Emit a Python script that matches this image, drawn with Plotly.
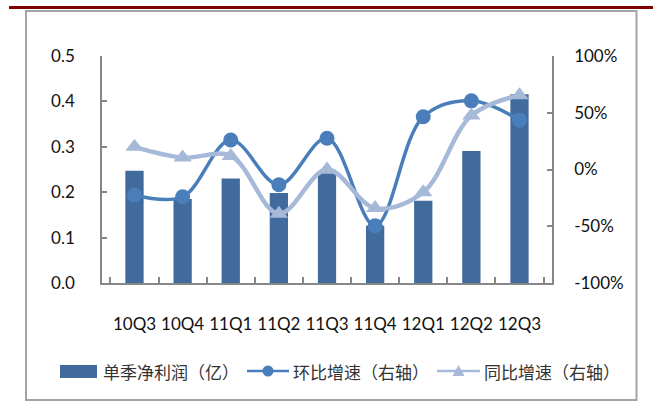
import plotly.graph_objects as go

categories = ["10Q3", "10Q4", "11Q1", "11Q2", "11Q3", "11Q4", "12Q1", "12Q2", "12Q3"]
net_profit = [0.247, 0.185, 0.230, 0.198, 0.242, 0.126, 0.181, 0.291, 0.416]
qoq_growth = [-22.5, -24.0, 26.0, -13.5, 27.5, -49.5, 46.5, 60.5, 43.5]
yoy_growth = [20.0, 10.5, 12.0, -39.0, 0.0, -34.0, -20.0, 47.5, 65.5]

left_ticks = [0.0, 0.1, 0.2, 0.3, 0.4, 0.5]
left_labels = ["0.0", "0.1", "0.2", "0.3", "0.4", "0.5"]
right_ticks = [-100, -50, 0, 50, 100]
right_labels = ["-100%", "-50%", "0%", "50%", "100%"]

legend_names = ["单季净利润（亿）", "环比增速（右轴）", "同比增速（右轴）"]

BAR = "#416b9d"
QOQ = "#4a7ebb"
YOY = "#a7b9d9"
AXIS = "#878787"
TICKFONT = dict(family="Lato", size=17, color="#111111")
XFONT = dict(family="Lato", size=17, color="#111111")

W, H = 656, 401
L, R, T, B = 102, 552, 56, 283


def px(x):
    return (x - L) / (R - L)


def py(y):
    return (B - y) / (B - T)


fig = go.Figure()
fig.add_trace(go.Bar(x=categories, y=net_profit, marker=dict(color=BAR, line=dict(width=0)),
                     name=legend_names[0], showlegend=False))
fig.add_trace(go.Scatter(x=categories, y=qoq_growth, yaxis="y2", mode="lines+markers",
                         line=dict(color=QOQ, width=3.5, shape="spline", smoothing=1),
                         marker=dict(symbol="circle", size=15, color=QOQ),
                         name=legend_names[1], showlegend=False))
fig.add_trace(go.Scatter(x=categories, y=yoy_growth, yaxis="y2", mode="lines+markers",
                         line=dict(color=YOY, width=4.5, shape="spline", smoothing=1),
                         marker=dict(symbol="triangle-up", size=16, color=YOY),
                         name=legend_names[2], showlegend=False))

shapes = []
# outer frame
shapes.append(dict(type="rect", xref="paper", yref="paper",
                   x0=px(26), x1=px(636.5), y0=py(11), y1=py(400),
                   line=dict(color="#a3a3a3", width=2), layer="below"))
# red top rule
shapes.append(dict(type="line", xref="paper", yref="paper",
                   x0=px(9), x1=px(653), y0=py(7.5), y1=py(7.5),
                   line=dict(color="#7f0000", width=3)))
# legend symbols
ly = 371
shapes.append(dict(type="rect", xref="paper", yref="paper",
                   x0=px(60), x1=px(97), y0=py(365), y1=py(378),
                   line=dict(width=0), fillcolor=BAR))
shapes.append(dict(type="line", xref="paper", yref="paper",
                   x0=px(247), x1=px(289), y0=py(ly), y1=py(ly),
                   line=dict(color=QOQ, width=2.5)))
shapes.append(dict(type="circle", xref="paper", yref="paper",
                   x0=px(262.5), x1=px(273.5), y0=py(365.5), y1=py(376.5),
                   line=dict(width=0), fillcolor=QOQ))
shapes.append(dict(type="line", xref="paper", yref="paper",
                   x0=px(437), x1=px(480), y0=py(ly), y1=py(ly),
                   line=dict(color=YOY, width=2.5)))
tx, ty = 458.5, 371
shapes.append(dict(type="path", xref="paper", yref="paper",
                   path=f"M {px(tx-6)} {py(ty+5)} L {px(tx+6)} {py(ty+5)} L {px(tx)} {py(ty-6)} Z",
                   line=dict(width=0), fillcolor=YOY))

annotations = []
for x0, name in zip([101, 291, 482], legend_names):
    annotations.append(dict(x=px(x0), y=py(ly), xref="paper", yref="paper", text=name,
                            showarrow=False, xanchor="left", yanchor="middle",
                            font=dict(family="Noto Sans CJK SC", size=17, color="#333333")))

fig.update_layout(
    width=W, height=H,
    margin=dict(l=L, r=W - R, t=T, b=H - B),
    paper_bgcolor="white", plot_bgcolor="white",
    bargap=0.62,
    showlegend=False,
    xaxis=dict(type="category", showline=True, linecolor=AXIS, linewidth=1.5,
               ticks="inside", tickson="boundaries", ticklen=6, tickcolor=AXIS, tickwidth=1.5,
               tickfont=XFONT, tickangle=0, showgrid=False, ticklabelstandoff=25, zeroline=False),
    yaxis=dict(range=[0, 0.5], tickvals=left_ticks, ticktext=left_labels,
               showline=True, linecolor=AXIS, linewidth=1.5, ticks="inside", ticklen=5,
               tickcolor=AXIS, tickwidth=1.5, tickfont=TICKFONT, showgrid=False,
               zeroline=False, ticklabelstandoff=22),
    yaxis2=dict(range=[-100, 100], tickvals=right_ticks, ticktext=right_labels,
                overlaying="y", side="right", showline=True, linecolor=AXIS, linewidth=1.5,
                ticks="inside", ticklen=5, tickcolor=AXIS, tickwidth=1.5, tickfont=TICKFONT,
                showgrid=False, zeroline=False, ticklabelstandoff=17),
    shapes=shapes,
    annotations=annotations,
)

fig.write_html("out.html")
